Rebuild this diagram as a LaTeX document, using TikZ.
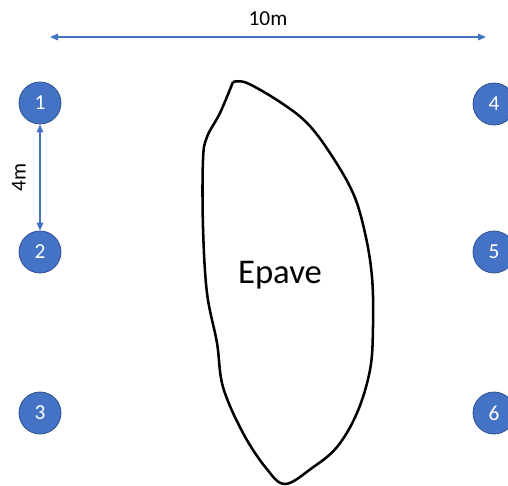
\documentclass[tikz,border=0pt]{standalone}
\usepackage{fontspec}
\setmainfont{Carlito}
\usetikzlibrary{arrows.meta}
\definecolor{accblue}{HTML}{4472C4}
\definecolor{accedge}{HTML}{2F528F}
\tikzset{
  buoy/.style={circle,fill=accblue,draw=accedge,line width=0.6pt,minimum size=31.5pt,inner sep=0pt,text=white,font=\fontsize{16}{18}\selectfont},
  measure/.style={accblue,line width=0.8pt,{Triangle[length=6pt,width=5pt]}-{Triangle[length=6pt,width=5pt]}},
  lbl/.style={text=black,font=\fontsize{16}{18}\selectfont}
}
\begin{document}
\begin{tikzpicture}[x=0.75pt,y=-0.75pt]
  \clip (0,0) rectangle (508,486);
  \useasboundingbox (0,0) rectangle (508,486);
  % buoys
  \node[buoy] (p1) at (40,103) {1};
  \node[buoy] (p2) at (40,252) {2};
  \node[buoy] (p3) at (40,413) {3};
  \node[buoy] (p4) at (494,104) {4};
  \node[buoy] (p5) at (494,252) {5};
  \node[buoy] (p6) at (494,413) {6};
  % dimensions
  \coordinate (wl) at (50,37);
  \coordinate (wr) at (486,37);
  \draw[measure] (wl) -- node[lbl,above=5pt] (width) {10m} (wr);
  \draw[measure] (p1) -- node[lbl,rotate=90,above=7pt] (gap) {4m} (p2);
  % wreck
  \draw[line width=1.9pt,line join=round] plot[smooth,tension=0.6] coordinates {
    (233,82) (247,83) (280,102) (307,123) (330,153) (353,193) (365,233)
    (372,277) (373,327) (370,370) (357,413) (337,447) (312,468) (285,484)
    (266,468) (243,433) (223,387) (217,343) (207,293) (203,227) (203,160)
    (207,137) (220,113) (233,82)};
  \node[font=\fontsize{26}{30}\selectfont] (wreck) at (280,275) {Epave};
\end{tikzpicture}
\end{document}
